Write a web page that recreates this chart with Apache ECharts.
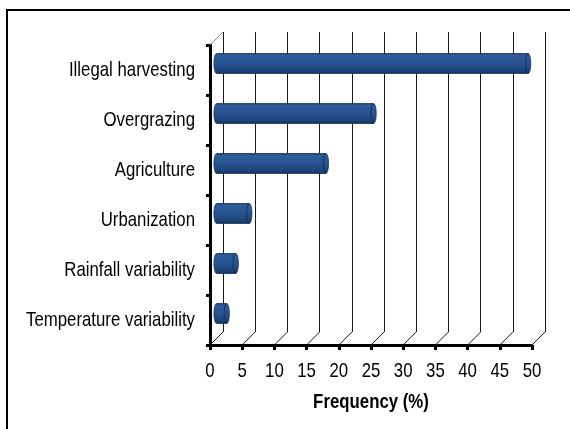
<!DOCTYPE html>
<html>
<head>
<meta charset="utf-8">
<script src="https://cdn.jsdelivr.net/npm/echarts@6/dist/echarts.min.js"></script>
<style>
  html, body { margin: 0; padding: 0; background: #fff; }
  #chart { width: 570px; height: 429px; }
</style>
</head>
<body>
<div id="chart"></div>
<script>
// Drivers of degradation, listed top to bottom
const categories = [
  'Illegal harvesting',
  'Overgrazing',
  'Agriculture',
  'Urbanization',
  'Rainfall variability',
  'Temperature variability'
];
// Frequency of each driver (%)
const frequency = [48.4, 24.4, 17.0, 5.1, 3.0, 1.6];
// Frequency axis ticks
const xTickValues = [0, 5, 10, 15, 20, 25, 30, 35, 40, 45, 50];
const axisTitle = 'Frequency (%)';

// Pseudo-3D box: front plane (axes), back wall (gridlines), bars at mid depth
const FRONT = { left: 210, top: 45, width: 322, height: 300 };
const DEPTH_X = 13, DEPTH_Y = -13;
const BAR_RATIO = 0.4;
// Condensed sans look: regular sans squeezed horizontally
const FONT_FAMILY = "'Liberation Sans',Arial,sans-serif";
const FONT_SIZE = 21;
const NARROW = 0.8;

function gridAt(fx, fy) {
  return {
    left: FRONT.left + DEPTH_X * fx,
    top: FRONT.top + DEPTH_Y * fy,
    width: FRONT.width,
    height: FRONT.height,
    containLabel: false,
    outerBoundsMode: 'none'
  };
}

function narrowText(x, y, text, align, vAlign, bold) {
  return {
    type: 'text',
    x: x, y: y,
    scaleX: NARROW,
    style: {
      x: 0, y: 0,
      text: text,
      align: align,
      verticalAlign: vAlign,
      fill: '#000',
      fontFamily: FONT_FAMILY,
      fontSize: FONT_SIZE,
      fontWeight: bold ? 'bold' : 'normal'
    }
  };
}

const chart = echarts.init(document.getElementById('chart'), null, { renderer: 'canvas' });

// Floor diagonals + frequency tick labels (+ axis title once)
function renderXDecor(params, api) {
  const v = api.value(0);
  const cs = params.coordSys;
  const x = api.coord([v, 0])[0];
  const bottom = cs.y + cs.height;
  const children = [
    {
      type: 'line',
      shape: { x1: x, y1: bottom, x2: x + DEPTH_X, y2: bottom + DEPTH_Y },
      style: { stroke: '#1a1a1a', lineWidth: 1 }
    },
    narrowText(x, bottom + 26, String(v), 'center', 'middle', false)
  ];
  if (params.dataIndex === 0) {
    children.push({
      type: 'line',
      shape: { x1: x, y1: cs.y, x2: x + DEPTH_X, y2: cs.y + DEPTH_Y },
      style: { stroke: '#8a8a8a', lineWidth: 1 }
    });
    children.push(narrowText(cs.x + cs.width / 2, bottom + 57, axisTitle, 'center', 'middle', true));
  }
  return { type: 'group', children };
}

// Category labels left of the vertical axis
function renderYLabel(params, api) {
  const idx = api.value(1);
  const cs = params.coordSys;
  const y = api.coord([0, idx])[1];
  return narrowText(cs.x - 15, y, categories[idx], 'right', 'middle', false);
}

function renderCylinder(params, api) {
  const v = api.value(0), idx = api.value(1);
  const start = api.coord([0, idx]);
  const end = api.coord([v, idx]);
  const h = api.size([0, 1])[1] * BAR_RATIO;
  const rx = 2.6, ry = h / 2;
  const top = end[1] - ry, bot = end[1] + ry;
  const l = start[0], r = end[0];
  const body = `M${l} ${top} L${r} ${top} A${rx} ${ry} 0 0 1 ${r} ${bot} L${l} ${bot} A${rx} ${ry} 0 0 1 ${l} ${top} Z`;
  const rim = `M${r} ${top} A${rx} ${ry} 0 0 0 ${r} ${bot}`;
  const bodyFill = new echarts.graphic.LinearGradient(0, 0, 0, 1, [
    { offset: 0, color: '#1b3a66' },
    { offset: 0.1, color: '#2d5c9a' },
    { offset: 0.35, color: '#2a5895' },
    { offset: 0.65, color: '#224c86' },
    { offset: 0.9, color: '#1a3e6e' },
    { offset: 1, color: '#122b50' }
  ]);
  return {
    type: 'group',
    children: [
      { type: 'path', shape: { pathData: body }, style: { fill: bodyFill, stroke: '#163560', lineWidth: 0.8 } },
      { type: 'path', shape: { pathData: rim }, style: { fill: 'none', stroke: '#15335c', lineWidth: 1.2, opacity: 0.8 } }
    ]
  };
}

const option = {
  backgroundColor: '#ffffff',
  animation: false,
  graphic: [{
    type: 'rect',
    shape: { x: 7, y: 10, width: 620, height: 500 },
    style: { fill: 'none', stroke: '#000', lineWidth: 2 },
    silent: true
  }],
  grid: [gridAt(0, 0), gridAt(1, 1), gridAt(0.5, 0.5)],
  xAxis: [
    {
      gridIndex: 0, type: 'value', min: 0, max: 50, interval: 5,
      axisLine: { show: true, lineStyle: { color: '#000', width: 3 } },
      axisTick: { show: true, length: 5, lineStyle: { color: '#000', width: 3 } },
      splitLine: { show: false },
      axisLabel: { show: false }
    },
    {
      gridIndex: 1, type: 'value', min: 0, max: 50, interval: 5,
      axisLine: { show: false }, axisTick: { show: false }, axisLabel: { show: false },
      splitLine: { show: true, lineStyle: { color: '#1a1a1a', width: 1 } }
    },
    {
      gridIndex: 2, type: 'value', min: 0, max: 50, interval: 5, show: false
    }
  ],
  yAxis: [
    {
      gridIndex: 0, type: 'category', data: categories, inverse: true,
      axisLine: { show: true, lineStyle: { color: '#000', width: 3 } },
      axisTick: { show: true, length: 4, lineStyle: { color: '#000', width: 3 } },
      axisLabel: { show: false },
      splitLine: { show: false }
    },
    { gridIndex: 1, type: 'category', data: categories, inverse: true, show: false },
    { gridIndex: 2, type: 'category', data: categories, inverse: true, show: false }
  ],
  series: [
    {
      type: 'custom', xAxisIndex: 0, yAxisIndex: 0, silent: true, z: 1,
      data: xTickValues.map(v => [v, 0]),
      renderItem: renderXDecor
    },
    {
      type: 'custom', xAxisIndex: 0, yAxisIndex: 0, silent: true, z: 1,
      data: categories.map((c, i) => [0, i]),
      renderItem: renderYLabel
    },
    {
      type: 'custom', xAxisIndex: 2, yAxisIndex: 2, z: 3,
      data: frequency.map((v, i) => [v, i]),
      encode: { x: 0, y: 1 },
      renderItem: renderCylinder
    }
  ]
};

chart.setOption(option);
</script>
</body>
</html>
